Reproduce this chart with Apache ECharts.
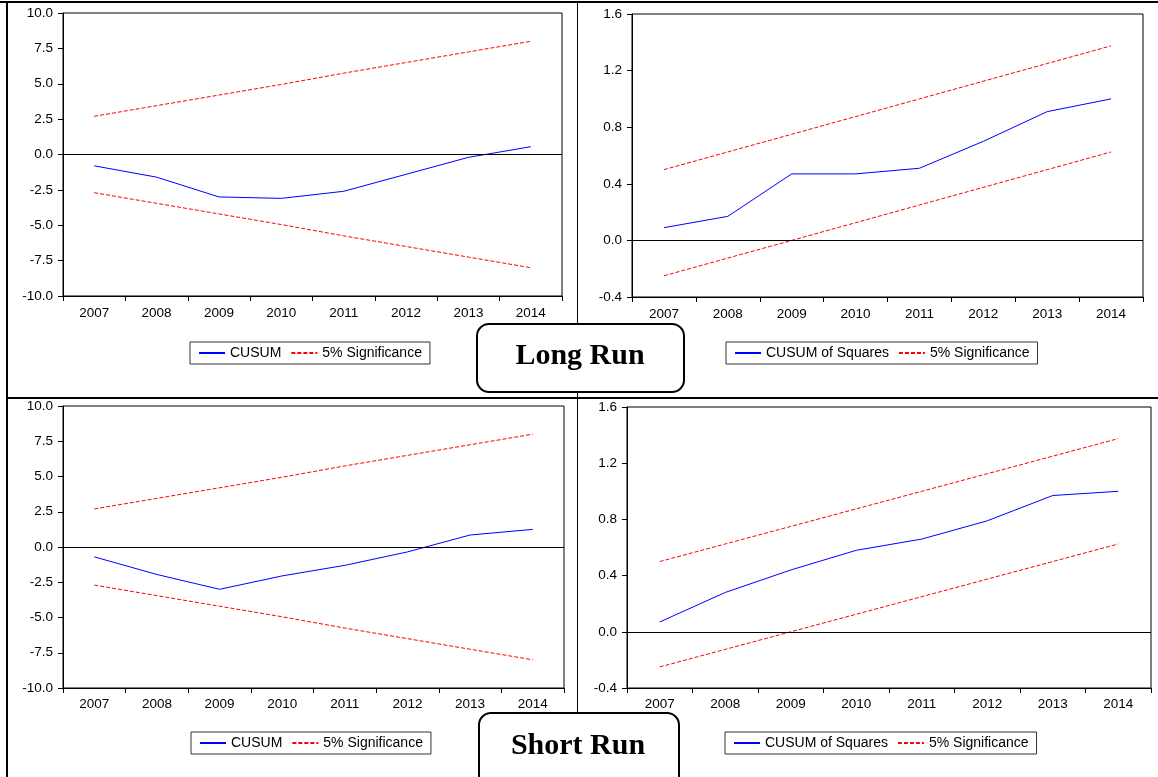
<!DOCTYPE html>
<html>
<head>
<meta charset="utf-8">
<script src="https://cdn.jsdelivr.net/npm/echarts@6/dist/echarts.min.js"></script>
<style>
  html, body { margin: 0; padding: 0; background: #fff; }
  #chart { width: 1158px; height: 777px; }
</style>
</head>
<body>
<div id="chart"></div>
<script>
// ---- data ----
const years = ['2007', '2008', '2009', '2010', '2011', '2012', '2013', '2014'];

// Long run
const lrCusum   = [-0.8, -1.6, -3.0, -3.1, -2.6, -1.4, -0.2, 0.55];
const lrCusumSq = [0.09, 0.17, 0.47, 0.47, 0.51, 0.70, 0.91, 1.0];
// Short run
const srCusum   = [-0.7, -1.95, -3.0, -2.05, -1.3, -0.35, 0.85, 1.25];
const srCusumSq = [0.07, 0.28, 0.44, 0.58, 0.66, 0.79, 0.97, 1.0];

// 5% significance bounds
const cusumUpper = [2.7, 3.45, 4.2, 4.95, 5.75, 6.5, 7.25, 8.0];
const cusumLower = [-2.7, -3.45, -4.2, -4.95, -5.75, -6.5, -7.25, -8.0];
const sqUpper = [0.5, 0.625, 0.75, 0.875, 1.0, 1.125, 1.25, 1.375];
const sqLower = [-0.25, -0.125, 0.0, 0.125, 0.25, 0.375, 0.5, 0.625];

// axis ranges / tick steps
const cusumAxis = { min: -10, max: 10, step: 2.5 };
const sqAxis = { min: -0.4, max: 1.6, step: 0.4 };

// ---- chart ----
const FONT = '"Liberation Sans", Arial, sans-serif';
const grids = [
  { left: 63,  top: 13,  width: 499, height: 283 },
  { left: 632, top: 14,  width: 511, height: 283 },
  { left: 63,  top: 406, width: 501, height: 282 },
  { left: 627, top: 407, width: 524, height: 281 }
];

function xAxis(i, margin) {
  return {
    type: 'category', gridIndex: i, data: years, boundaryGap: true,
    axisLine: { show: true, onZero: false, lineStyle: { color: '#000', width: 1 } },
    axisTick: { show: true, length: 5, inside: false, lineStyle: { color: '#000' } },
    axisLabel: { color: '#000', fontFamily: FONT, fontSize: 13.5, margin: margin },
    splitLine: { show: false }
  };
}
function yAxis(i, ax) {
  return {
    type: 'value', gridIndex: i, min: ax.min, max: ax.max, interval: ax.step,
    axisLine: { show: true, onZero: false, lineStyle: { color: '#000', width: 1 } },
    axisTick: { show: true, length: 5, inside: false, lineStyle: { color: '#000' } },
    axisLabel: { color: '#000', fontFamily: FONT, fontSize: 13.5, margin: 10,
                 formatter: v => Number(v).toFixed(1) },
    splitLine: { show: false }
  };
}
function mainSeries(name, i, data) {
  return {
    name: name, type: 'line', xAxisIndex: i, yAxisIndex: i, data: data,
    symbol: 'none', lineStyle: { color: '#0000ff', width: 1 }, itemStyle: { color: '#0000ff' },
    silent: true, z: 3,
    markLine: {
      silent: true, symbol: 'none', label: { show: false },
      lineStyle: { color: '#000', width: 1, type: 'solid' },
      data: [{ yAxis: 0 }]
    }
  };
}
function boundSeries(i, data) {
  return {
    name: '5% Significance', type: 'line', xAxisIndex: i, yAxisIndex: i, data: data,
    symbol: 'none', lineStyle: { color: '#ff0000', width: 1, type: [4, 2] },
    itemStyle: { color: '#ff0000' }, silent: true, z: 2
  };
}
function legend(left, top, first) {
  return {
    left: left, top: top, orient: 'horizontal',
    data: [first, '5% Significance'],
    itemWidth: 26, itemHeight: 12, itemGap: 9,
    padding: [4, 8, 4, 8],
    itemStyle: { opacity: 0 },
    borderColor: '#333', borderWidth: 1, backgroundColor: '#fff',
    textStyle: { color: '#000', fontFamily: FONT, fontSize: 14 },
    selectedMode: false
  };
}

const option = {
  animation: false,
  backgroundColor: '#fff',
  grid: grids.map(g => Object.assign({ show: true, borderColor: '#000', borderWidth: 1,
                                       backgroundColor: 'transparent' }, g)),
  xAxis: [xAxis(0, 10), xAxis(1, 10), xAxis(2, 9), xAxis(3, 9)],
  yAxis: [yAxis(0, cusumAxis), yAxis(1, sqAxis), yAxis(2, cusumAxis), yAxis(3, sqAxis)],
  legend: [
    legend(190, 342, 'CUSUM'),
    legend(726, 342, 'CUSUM of Squares'),
    legend(191, 732, 'CUSUM'),
    legend(725, 732, 'CUSUM of Squares')
  ],
  series: [
    mainSeries('CUSUM', 0, lrCusum), boundSeries(0, cusumUpper), boundSeries(0, cusumLower),
    mainSeries('CUSUM of Squares', 1, lrCusumSq), boundSeries(1, sqUpper), boundSeries(1, sqLower),
    mainSeries('CUSUM', 2, srCusum), boundSeries(2, cusumUpper), boundSeries(2, cusumLower),
    mainSeries('CUSUM of Squares', 3, srCusumSq), boundSeries(3, sqUpper), boundSeries(3, sqLower)
  ],
  graphic: [
    { type: 'rect', z: 50, silent: true, shape: { x: 0, y: 1, width: 1158, height: 2 }, style: { fill: '#000' } },
    { type: 'rect', z: 50, silent: true, shape: { x: 6, y: 1, width: 2, height: 776 }, style: { fill: '#000' } },
    { type: 'rect', z: 50, silent: true, shape: { x: 577, y: 1, width: 1, height: 776 }, style: { fill: '#000' } },
    { type: 'rect', z: 50, silent: true, shape: { x: 6, y: 397, width: 1152, height: 2 }, style: { fill: '#000' } },
    { type: 'rect', z: 60, silent: true, shape: { x: 477, y: 324, width: 207, height: 68, r: 12 },
      style: { fill: '#fff', stroke: '#000', lineWidth: 2 } },
    { type: 'text', z: 61, silent: true, x: 580, y: 371,
      style: { text: 'Long Run', fill: '#000', font: 'bold 30px "Liberation Serif", "Times New Roman", serif',
               textAlign: 'center', textVerticalAlign: 'bottom' } },
    { type: 'rect', z: 60, silent: true, shape: { x: 479, y: 713, width: 200, height: 80, r: 12 },
      style: { fill: '#fff', stroke: '#000', lineWidth: 2 } },
    { type: 'text', z: 61, silent: true, x: 578, y: 761,
      style: { text: 'Short Run', fill: '#000', font: 'bold 30px "Liberation Serif", "Times New Roman", serif',
               textAlign: 'center', textVerticalAlign: 'bottom' } }
  ]
};

const chart = echarts.init(document.getElementById('chart'), null, { renderer: 'canvas' });
chart.setOption(option);
</script>
</body>
</html>
